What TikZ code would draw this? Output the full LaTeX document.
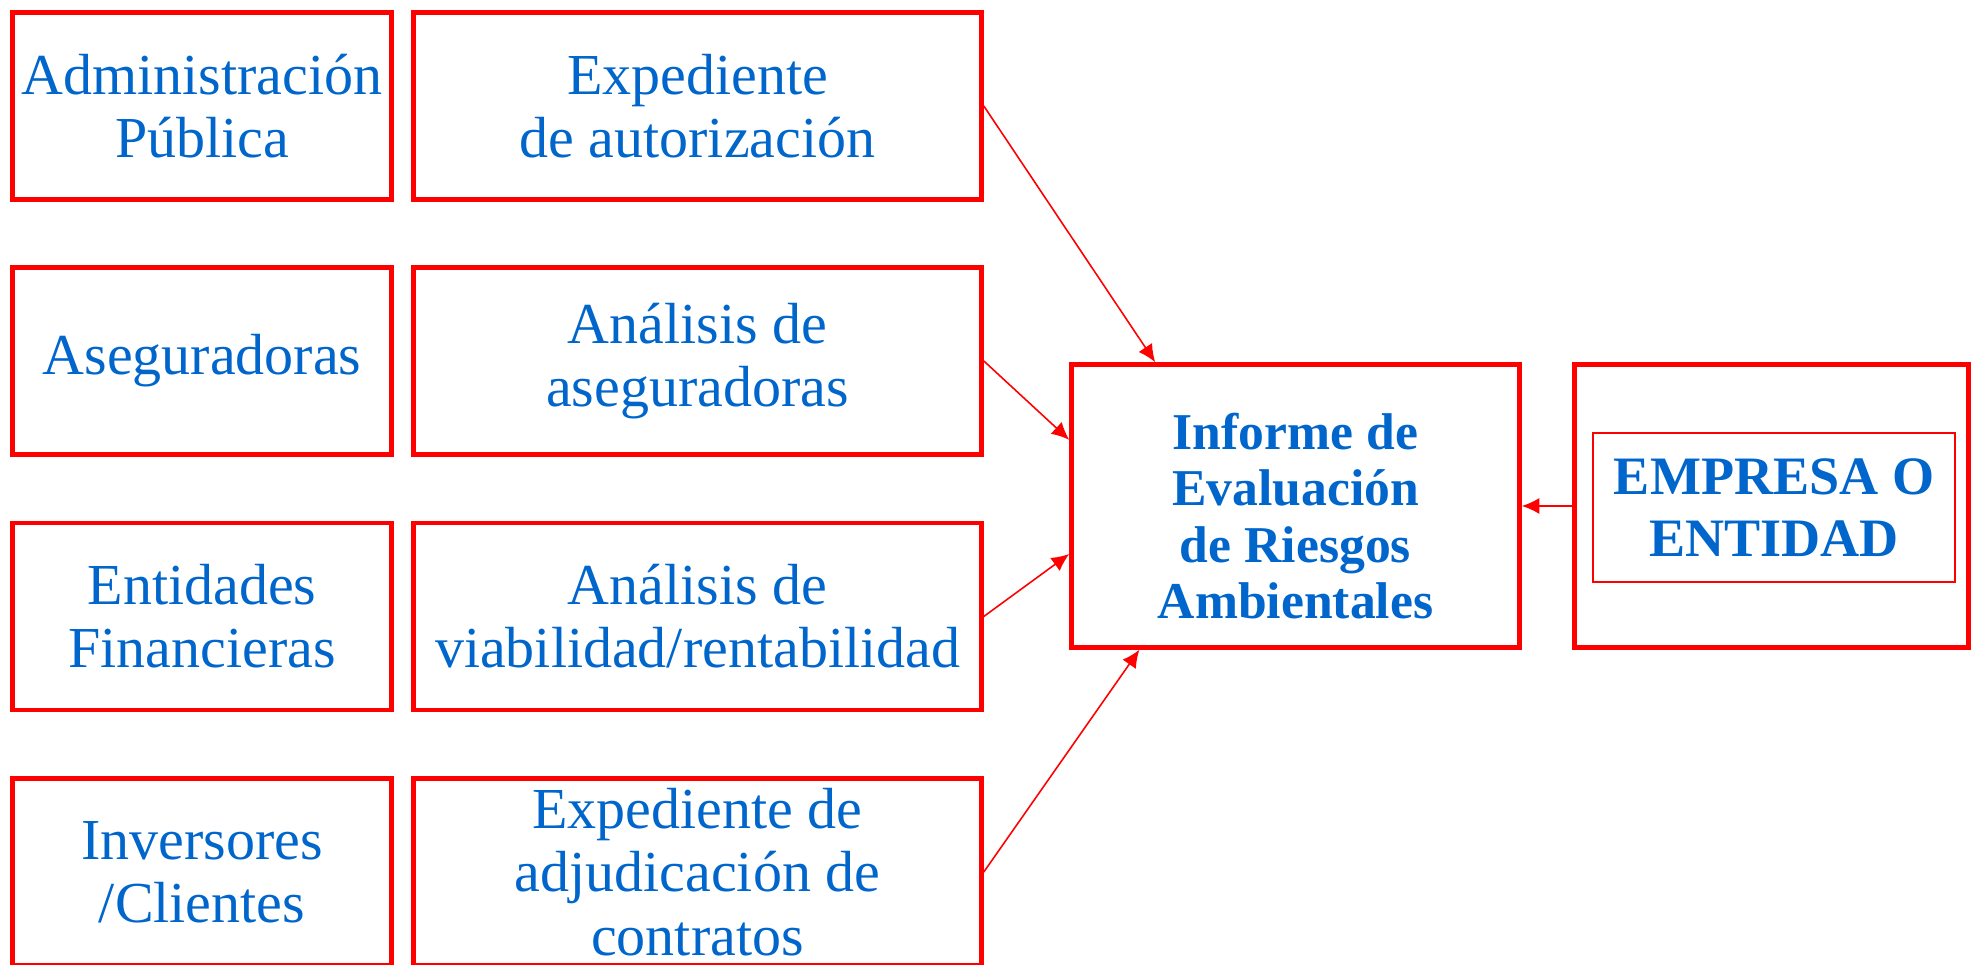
\documentclass[tikz,border=0pt]{standalone}
\usepackage{fontspec}
\setmainfont{Liberation Serif}
\usetikzlibrary{arrows.meta,calc}
\definecolor{boxred}{RGB}{255,0,0}
\definecolor{txtblue}{RGB}{0,102,204}

\begin{document}
\begin{tikzpicture}[
  box/.style={draw=boxred,line width=1.3pt,text=txtblue,align=center,inner sep=0pt,
    minimum height=1.87cm,font=\fontsize{16.5}{18}\selectfont},
  lbox/.style={box,minimum width=3.79cm},
  rbox/.style={box,minimum width=5.68cm},
  boldtext/.style={text=txtblue,align=center,inner sep=0pt,
    font=\fontsize{14.7}{16}\selectfont\bfseries},
  arr/.style={color=boxred,line width=0.45pt,-{Latex[length=5pt,width=4.6pt]}}]

\clip (0,0) rectangle (19.75,9.65);

\node[lbox] (a1) at (2.02,8.59) {Administración\\Pública};
\node[lbox] (a2) at (2.02,6.04) {Aseguradoras};
\node[lbox] (a3) at (2.02,3.485) {Entidades\\Financieras};
\node[lbox] (a4) at (2.02,0.93) {Inversores\\/Clientes};

\node[rbox] (b1) at (6.975,8.59) {Expediente\\de autorización};
\node[rbox] (b2) at (6.975,6.04) {Análisis de\\aseguradoras};
\node[rbox] (b3) at (6.975,3.485) {Análisis de\\viabilidad/rentabilidad};
\node[rbox] (b4) at (6.975,0.93) {Expediente de\\adjudicación de\\contratos};

\node[box,minimum width=4.48cm,minimum height=2.83cm,
  label={[boldtext,yshift=-0.1cm]center:{Informe de\\Evaluación\\de Riesgos\\Ambientales}}]
  (c1) at (12.955,4.59) {};

\node[box,minimum width=3.94cm,minimum height=2.83cm] (d1) at (17.715,4.59) {};
\node[box,line width=0.5pt,minimum width=3.62cm,minimum height=1.49cm,
  font=\fontsize{15.4}{17.6}\selectfont\bfseries] (d2) at (17.74,4.575)
  {EMPRESA O\\ENTIDAD};

\coordinate (t1) at ($(c1.north west)!0.19!(c1.north east)$);
\coordinate (t2) at ($(c1.north west)!0.27!(c1.south west)$);
\coordinate (t3) at ($(c1.north west)!0.667!(c1.south west)$);
\coordinate (t4) at ($(c1.south west)!0.155!(c1.south east)$);

\path[arr] (b1.east) edge (t1) (b2.east) edge (t2) (b3.east) edge (t3)
  (b4.east) edge (t4) (d1.west) edge (c1.east);

\end{tikzpicture}
\end{document}
